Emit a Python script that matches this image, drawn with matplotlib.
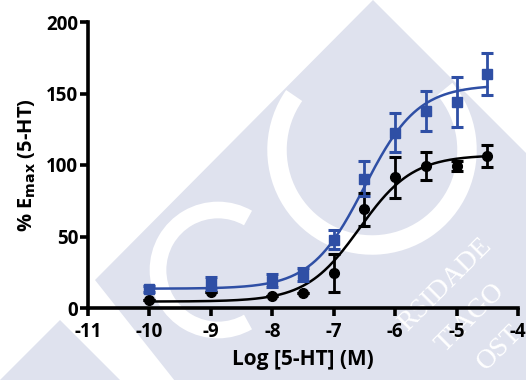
import numpy as np
import matplotlib
matplotlib.use("Agg")
import matplotlib.pyplot as plt
from matplotlib.patches import Polygon, Arc

# Concentrations (log M) and mean responses (% Emax) with SEM
log_conc = [-10, -9, -8, -7.5, -7, -6.5, -6, -5.5, -5, -4.5]

blue_mean = [13.3, 17.4, 19.0, 23.7, 47.7, 90.5, 122.6, 138.0, 144.0, 163.5]
blue_sem = [2.0, 4.5, 4.6, 4.6, 6.6, 12.0, 13.5, 14.0, 17.5, 14.5]

black_mean = [5.8, 11.0, 8.6, 10.5, 24.4, 69.0, 91.4, 99.3, 99.5, 106.3]
black_sem = [0.0, 0.0, 0.0, 0.0, 13.5, 11.7, 14.2, 9.5, 3.5, 7.7]

# Fitted four-parameter logistic curves: bottom, top, logEC50, hill slope
blue_fit = (13.5, 156.0, -6.5, 1.0)
black_fit = (4.5, 107.0, -6.58, 1.0)

x_ticks = [-11, -10, -9, -8, -7, -6, -5, -4]
y_ticks = [0, 50, 100, 150, 200]

BLUE = "#2f4fa5"
PALE = "#dfe2ee"
FONT = ["Open Sans", "DejaVu Sans"]


def logistic(x, bottom, top, logec50, hill):
    return bottom + (top - bottom) / (1 + 10 ** ((logec50 - x) * hill))


W, H = 526, 380
fig = plt.figure(figsize=(W / 100, H / 100), dpi=100)

# Background emblem in figure pixel coordinates
bg = fig.add_axes([0, 0, 1, 1], zorder=0)
bg.set_xlim(0, W)
bg.set_ylim(H, 0)
bg.axis("off")
bg.add_patch(Polygon([(373, 0), (560, 187), (560, 400), (190, 400),
                      (95, 280)], closed=True, facecolor=PALE,
                     edgecolor="none"))
bg.add_patch(Polygon([(0, 380), (60, 320), (120, 380)], closed=True,
                     facecolor=PALE, edgecolor="none"))
bg.add_artist(Arc((372, 150), 190, 190, theta1=-40, theta2=215,
                  color="white", lw=14))
bg.add_artist(Arc((218, 270), 120, 120, theta1=60, theta2=300,
                  color="white", lw=12))
for txt, (tx, ty) in [("RSIDADE", (445, 285)), ("TIAGO", (470, 318)),
                      ("OST", (500, 348))]:
    bg.text(tx, ty, txt, rotation=45, color="white", fontsize=20,
            family="Liberation Serif", ha="center", va="center")

ax = fig.add_axes([88 / W, 1 - 308 / H, (518 - 88) / W, (308 - 22) / H],
                  zorder=1)
ax.patch.set_alpha(0)

xs = np.linspace(-10, -4.5, 300)
ax.plot(xs, logistic(xs, *black_fit), color="black", lw=1.8, zorder=3)
ax.plot(xs, logistic(xs, *blue_fit), color=BLUE, lw=1.8, zorder=3)

ax.errorbar(log_conc, black_mean, yerr=black_sem, fmt="o", color="black",
            ms=7, elinewidth=2, capsize=4.5, capthick=2.2, zorder=4)
ax.errorbar(log_conc, blue_mean, yerr=blue_sem, fmt="s", color=BLUE,
            ms=7, elinewidth=2, capsize=4.5, capthick=2.2, zorder=5)

ax.set_xlim(-11, -4)
ax.set_ylim(0, 200)
ax.set_xticks(x_ticks)
ax.set_yticks(y_ticks)
ax.set_xticklabels([str(t) for t in x_ticks])
ax.set_yticklabels([str(t) for t in y_ticks])

for side in ("top", "right"):
    ax.spines[side].set_visible(False)
for side in ("left", "bottom"):
    ax.spines[side].set_linewidth(2.6)
ax.tick_params(width=2.6, length=6, direction="out", pad=4, labelsize=13.5)
for lab in ax.get_xticklabels() + ax.get_yticklabels():
    lab.set_fontweight("bold")
    lab.set_family(FONT)
ax.tick_params(axis="y", pad=1)

ax.set_xlabel("Log [5-HT] (M)", fontsize=15, fontweight="bold",
              family=FONT, labelpad=5)
ax.set_ylabel(r"% E$_{\mathbf{max}}$ (5-HT)", fontsize=14.5, fontweight="bold",
              family=FONT, labelpad=6)

for sp in ax.spines.values():
    sp.set_clip_on(False)

fig.savefig("out.png", dpi=100)
